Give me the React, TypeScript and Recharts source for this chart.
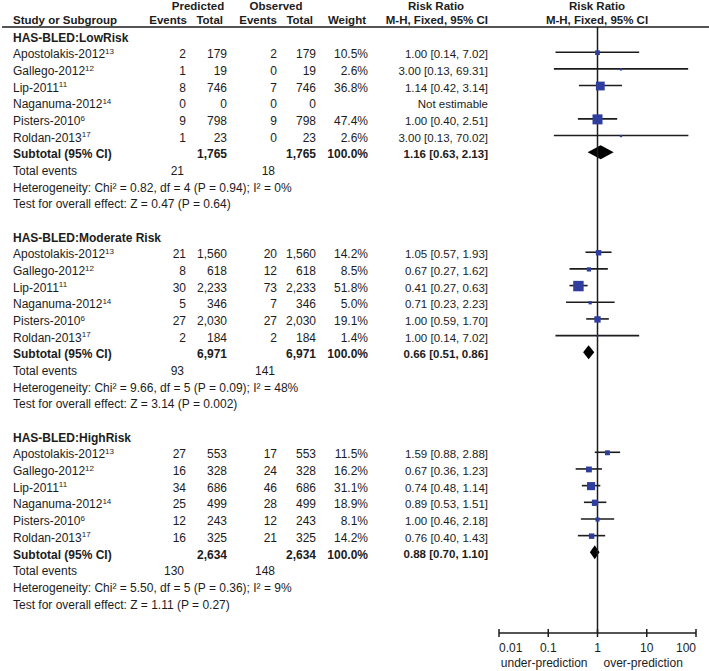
import React from 'react';
import { ComposedChart, Scatter, ErrorBar, Area, XAxis, YAxis, ReferenceLine } from 'recharts';

const groupNames = ['HAS-BLED:LowRisk', 'HAS-BLED:Moderate Risk', 'HAS-BLED:HighRisk'];
const studyNames = ['Apostolakis-2012', 'Gallego-2012', 'Lip-2011', 'Naganuma-2012', 'Pisters-2010', 'Roldan-2013'];
const studyRefs = ['13', '12', '11', '14', '6', '17'];

const predEvents = [[2, 1, 8, 0, 9, 1], [21, 8, 30, 5, 27, 2], [27, 16, 34, 25, 12, 16]];
const predTotals = [[179, 19, 746, 0, 798, 23], [1560, 618, 2233, 346, 2030, 184], [553, 328, 686, 499, 243, 325]];
const obsEvents = [[2, 0, 7, 0, 9, 0], [20, 12, 73, 7, 27, 2], [17, 24, 46, 28, 12, 21]];
const obsTotals = [[179, 19, 746, 0, 798, 23], [1560, 618, 2233, 346, 2030, 184], [553, 328, 686, 499, 243, 325]];
const weights = [[10.5, 2.6, 36.8, null, 47.4, 2.6], [14.2, 8.5, 51.8, 5.0, 19.1, 1.4], [11.5, 16.2, 31.1, 18.9, 8.1, 14.2]];
const riskRatios = [[1.0, 3.0, 1.14, null, 1.0, 3.0], [1.05, 0.67, 0.41, 0.71, 1.0, 1.0], [1.59, 0.67, 0.74, 0.89, 1.0, 0.76]];
const ciLower = [[0.14, 0.13, 0.42, null, 0.4, 0.13], [0.57, 0.27, 0.27, 0.23, 0.59, 0.14], [0.88, 0.36, 0.48, 0.53, 0.46, 0.4]];
const ciUpper = [[7.02, 69.31, 3.14, null, 2.51, 70.02], [1.93, 1.62, 0.63, 2.23, 1.7, 7.02], [2.88, 1.23, 1.14, 1.51, 2.18, 1.43]];

const subtotalN = [1765, 6971, 2634];
const subtotalRR = [1.16, 0.66, 0.88];
const subtotalLower = [0.63, 0.51, 0.7];
const subtotalUpper = [2.13, 0.86, 1.1];
const totalPredEvents = [21, 93, 130];
const totalObsEvents = [18, 141, 148];
const heterogeneity = [
  'Chi² = 0.82, df = 4 (P = 0.94); I² = 0%',
  'Chi² = 9.66, df = 5 (P = 0.09); I² = 48%',
  'Chi² = 5.50, df = 5 (P = 0.36); I² = 9%',
];
const overallEffect = ['Z = 0.47 (P = 0.64)', 'Z = 3.14 (P = 0.002)', 'Z = 1.11 (P = 0.27)'];

const axisTicks = [0.01, 0.1, 1, 10, 100];

// layout
const W = 709;
const H = 671;
const ROWS_PER_GROUP = 12;
const FONT = '"Liberation Sans", Arial, sans-serif';
const INK = '#1c1c1c';
const BLUE = '#2e3d9e';
const COL = { name: 13, predEv: 186, predTot: 227, obsEv: 277, obsTot: 316, weight: 368, ci: 488, plot: 597 };
const DIAMOND_HALF = 0.42;
const TXT_SHIFT = 2; // table text sits a touch below the CI lines

const fmtN = (n: number) => n.toLocaleString('en-US');
const fmtCI = (rr: number, lo: number, hi: number) => `${rr.toFixed(2)} [${lo.toFixed(2)}, ${hi.toFixed(2)}]`;

type Row = { x: number; y: number; kind: string; [k: string]: any };

const textRows: Row[] = [
  { x: 1, y: -1.77, kind: 'header1' },
  { x: 1, y: -0.93, kind: 'header2' },
];
const squares: Row[] = [];
const diamonds: { x: number; band: number[] }[][] = [];

groupNames.forEach((group, g) => {
  const base = g * ROWS_PER_GROUP;
  textRows.push({ x: 1, y: base, kind: 'group', label: group });
  studyNames.forEach((name, s) => {
    const rr = riskRatios[g][s];
    const lo = ciLower[g][s];
    const hi = ciUpper[g][s];
    const w = weights[g][s];
    textRows.push({
      x: 1,
      y: base + 1 + s,
      kind: 'study',
      name,
      ref: studyRefs[s],
      pe: fmtN(predEvents[g][s]),
      pt: fmtN(predTotals[g][s]),
      oe: fmtN(obsEvents[g][s]),
      ot: fmtN(obsTotals[g][s]),
      w: w == null ? '' : `${w.toFixed(1)}%`,
      ci: rr == null ? 'Not estimable' : fmtCI(rr, lo as number, hi as number),
    });
    if (rr != null && lo != null && hi != null && w != null) {
      squares.push({ x: rr, y: base + 1 + s, kind: 'sq', w, err: [rr - lo, hi - rr] });
    }
  });
  textRows.push({
    x: 1,
    y: base + 7,
    kind: 'subtotal',
    pt: fmtN(subtotalN[g]),
    ot: fmtN(subtotalN[g]),
    ci: fmtCI(subtotalRR[g], subtotalLower[g], subtotalUpper[g]),
  });
  textRows.push({ x: 1, y: base + 8, kind: 'events', pe: totalPredEvents[g], oe: totalObsEvents[g] });
  textRows.push({ x: 1, y: base + 9, kind: 'note', text: `Heterogeneity: ${heterogeneity[g]}` });
  textRows.push({ x: 1, y: base + 10, kind: 'note', text: `Test for overall effect: ${overallEffect[g]}` });

  const r = base + 7;
  diamonds.push([
    { x: subtotalLower[g], band: [r, r] },
    { x: subtotalRR[g], band: [r - DIAMOND_HALF, r + DIAMOND_HALF] },
    { x: subtotalUpper[g], band: [r, r] },
  ]);
});

const T = (p: any) => (
  <text
    fontFamily={FONT}
    fontSize={12}
    fill={INK}
    dy="0.35em"
    {...p}
  />
);

const renderRow = (props: any) => {
  const { cy, payload } = props;
  const p = payload as Row;
  const y = cy + (p.kind.startsWith('header') ? 0 : TXT_SHIFT);
  switch (p.kind) {
    case 'header1':
      return (
        <g>
          <T x={198} y={y} textAnchor="middle" fontWeight="bold" fontSize={11.5}>Predicted</T>
          <T x={276} y={y} textAnchor="middle" fontWeight="bold" fontSize={11.5}>Observed</T>
          <T x={436} y={y} textAnchor="middle" fontWeight="bold" fontSize={11.5}>Risk Ratio</T>
          <T x={COL.plot} y={y} textAnchor="middle" fontWeight="bold" fontSize={11.5}>Risk Ratio</T>
        </g>
      );
    case 'header2':
      return (
        <g>
          <T x={COL.name} y={y} fontWeight="bold" fontSize={11.5}>Study or Subgroup</T>
          <T x={187} y={y} textAnchor="end" fontWeight="bold" fontSize={11.5}>Events</T>
          <T x={223} y={y} textAnchor="end" fontWeight="bold" fontSize={11.5}>Total</T>
          <T x={277} y={y} textAnchor="end" fontWeight="bold" fontSize={11.5}>Events</T>
          <T x={313} y={y} textAnchor="end" fontWeight="bold" fontSize={11.5}>Total</T>
          <T x={366} y={y} textAnchor="end" fontWeight="bold" fontSize={11.5}>Weight</T>
          <T x={COL.ci} y={y} textAnchor="end" fontWeight="bold" fontSize={11.5}>M-H, Fixed, 95% CI</T>
          <T x={COL.plot} y={y} textAnchor="middle" fontWeight="bold" fontSize={11.5}>M-H, Fixed, 95% CI</T>
          <line x1={2} x2={W} y1={y + 7} y2={y + 7} stroke={INK} strokeWidth={1.5} />
        </g>
      );
    case 'group':
      return (
        <g>
          <T x={COL.name} y={y} fontWeight="bold">{p.label}</T>
        </g>
      );
    case 'study':
      return (
        <g>
          <T x={COL.name} y={y}>
            {p.name}
            <tspan fontSize={8} dy={-4.5}>{p.ref}</tspan>
          </T>
          <T x={COL.predEv} y={y} textAnchor="end">{p.pe}</T>
          <T x={COL.predTot} y={y} textAnchor="end">{p.pt}</T>
          <T x={COL.obsEv} y={y} textAnchor="end">{p.oe}</T>
          <T x={COL.obsTot} y={y} textAnchor="end">{p.ot}</T>
          <T x={COL.weight} y={y} textAnchor="end">{p.w}</T>
          <T x={COL.ci} y={y} textAnchor="end" fontSize={11.5}>{p.ci}</T>
        </g>
      );
    case 'subtotal':
      return (
        <g>
          <T x={COL.name} y={y} fontWeight="bold">Subtotal (95% CI)</T>
          <T x={COL.predTot} y={y} textAnchor="end" fontWeight="bold">{p.pt}</T>
          <T x={COL.obsTot} y={y} textAnchor="end" fontWeight="bold">{p.ot}</T>
          <T x={COL.weight} y={y} textAnchor="end" fontWeight="bold">100.0%</T>
          <T x={COL.ci} y={y} textAnchor="end" fontWeight="bold" fontSize={11.5}>{p.ci}</T>
        </g>
      );
    case 'events':
      return (
        <g>
          <T x={COL.name} y={y}>Total events</T>
          <T x={184} y={y} textAnchor="end">{p.pe}</T>
          <T x={275} y={y} textAnchor="end">{p.oe}</T>
        </g>
      );
    case 'note':
      return (
        <g>
          <T x={COL.name} y={y}>{p.text}</T>
        </g>
      );
    default:
      return <g />;
  }
};

const renderSquare = (props: any) => {
  const { cx, cy, payload } = props;
  const s = 1.45 * Math.sqrt(payload.w);
  return <rect x={cx - s / 2} y={cy - s / 2 + 0.5} width={s} height={s} fill={BLUE} />;
};

const renderTick = (props: any) => {
  const { x, y, payload } = props;
  const v = payload.value as number;
  const anchor = v === axisTicks[0] ? 'start' : v === axisTicks[axisTicks.length - 1] ? 'end' : 'middle';
  return (
    <g>
      <line x1={x} x2={x} y1={y - 4} y2={y + 4} stroke={INK} strokeWidth={1.5} />
      <T x={x} y={y + 15} textAnchor={anchor}>{String(v)}</T>
      {v === 1 && (
        <>
          <T x={x - 10} y={y + 30} textAnchor="end">under-prediction</T>
          <T x={x + 6} y={y + 30} textAnchor="start">over-prediction</T>
        </>
      )}
    </g>
  );
};

export default function App() {
  return (
    <div style={{ position: 'absolute', left: 0, top: 0, width: W, height: H, background: '#fff' }}>
      <ComposedChart width={W} height={H} margin={{ top: 0, right: 13, bottom: 0, left: 499 }}>
        <XAxis
          type="number"
          dataKey="x"
          scale="log"
          domain={[0.01, 100]}
          ticks={axisTicks}
          interval={0}
          height={38}
          tickSize={0}
          tickMargin={0}
          tickLine={false}
          axisLine={{ stroke: INK, strokeWidth: 1.5 }}
          tick={renderTick}
        />
        <YAxis type="number" dataKey="y" domain={[-2.13, 35.84]} reversed hide />
        <ReferenceLine
          segment={[{ x: 1, y: -0.51 }, { x: 1, y: 35.84 }]}
          stroke={INK}
          strokeWidth={1.5}
        />
        {diamonds.map((d, i) => (
          <Area
            key={i}
            data={d}
            dataKey="band"
            type="linear"
            stroke="none"
            fill="#000"
            fillOpacity={1}
            dot={false}
            activeDot={false}
            isAnimationActive={false}
          />
        ))}
        <Scatter data={squares} shape={renderSquare} isAnimationActive={false}>
          <ErrorBar dataKey="err" direction="x" width={0} stroke={INK} strokeWidth={1.6} />
        </Scatter>
        <Scatter data={textRows} shape={renderRow} isAnimationActive={false} />
      </ComposedChart>
    </div>
  );
}
